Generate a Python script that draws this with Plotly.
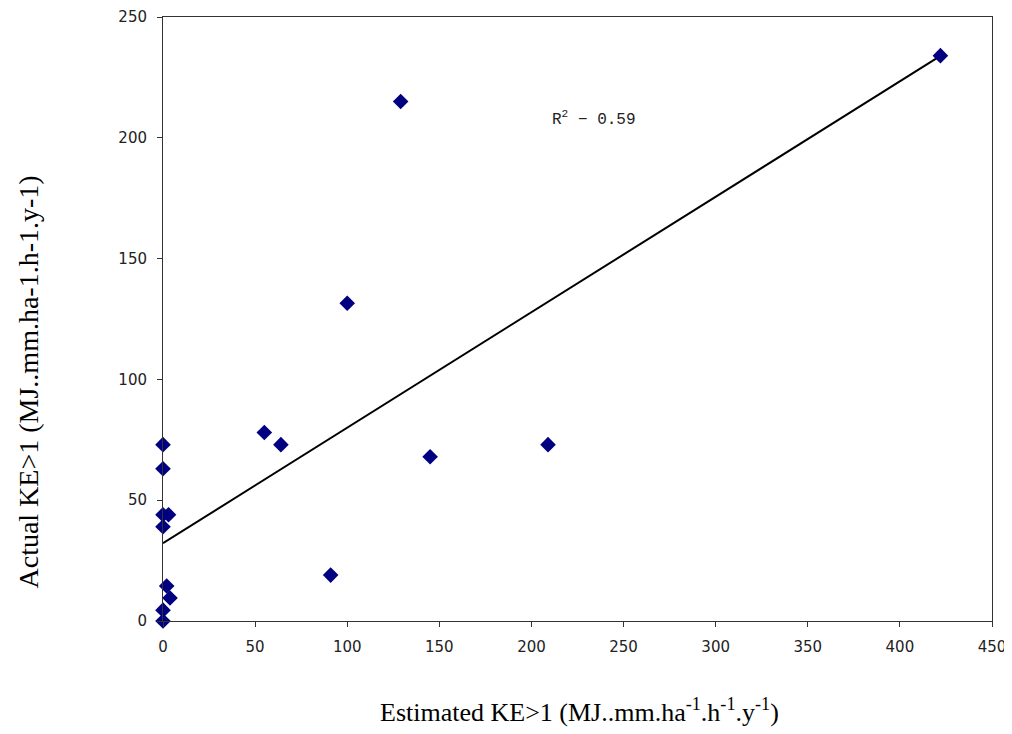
import plotly.graph_objects as go

# Data
estimated_ke = [0, 0, 0, 3, 0, 2, 3.8, 0, 0, 55, 64, 91, 100, 129, 145, 209, 422]
actual_ke = [73, 63, 44, 44, 39, 14.5, 9.5, 4.5, 0, 78, 73, 19, 131.5, 215, 68, 73, 234]

# Trendline as drawn in the chart
trend_intercept = 32.2
trend_slope = 0.478
r_squared_text = "R<sup>2</sup> − 0.59"

x_ticks = [0, 50, 100, 150, 200, 250, 300, 350, 400, 450]
y_ticks = [0, 50, 100, 150, 200, 250]

trend_x = [0, max(estimated_ke)]
trend_y = [trend_intercept + trend_slope * v for v in trend_x]

fig = go.Figure()
fig.add_trace(go.Scatter(
    x=trend_x, y=trend_y, mode="lines",
    line=dict(color="black", width=2), hoverinfo="skip", showlegend=False,
))
fig.add_trace(go.Scatter(
    x=estimated_ke, y=actual_ke, mode="markers",
    marker=dict(symbol="diamond", size=12, color="#000080"),
    showlegend=False, cliponaxis=False,
))

axis_common = dict(
    showgrid=False, zeroline=False, showline=True, linecolor="#333333",
    linewidth=1, mirror=True, ticks="outside", ticklen=5, tickcolor="#333333",
    ticklabelstandoff=7, automargin=False, ticklabeloverflow="allow",
    tickfont=dict(family="DejaVu Sans, Verdana, sans-serif", size=15, color="#222222"),
)
fig.update_xaxes(range=[0, 450], tickvals=x_ticks, **axis_common)
fig.update_yaxes(range=[0, 250], tickvals=y_ticks, **axis_common)

fig.update_layout(
    width=1000, height=726,
    margin=dict(l=155, r=16, t=9, b=113),
    plot_bgcolor="white", paper_bgcolor="white",
    annotations=[
        dict(text="Estimated KE>1 (MJ..mm.ha<sup>-1</sup>.h<sup>-1</sup>.y<sup>-1</sup>)",
             xref="paper", yref="paper", x=0.503, y=-0.149, xanchor="center", yanchor="middle",
             showarrow=False, font=dict(family="Liberation Serif, Times New Roman, serif", size=26, color="black")),
        dict(text="Actual KE>1 (MJ..mm.ha-1.h-1.y-1)",
             xref="paper", yref="paper", x=-0.162, y=0.396, xanchor="center", yanchor="middle",
             textangle=-90, showarrow=False,
             font=dict(family="Liberation Serif, Times New Roman, serif", size=28, color="black")),
        dict(text=r_squared_text, xref="x", yref="y", x=234, y=208, xanchor="center", yanchor="middle",
             showarrow=False, font=dict(family="Liberation Mono, Courier New, monospace", size=16, color="#222222")),
    ],
)

fig.write_html("out.html")
